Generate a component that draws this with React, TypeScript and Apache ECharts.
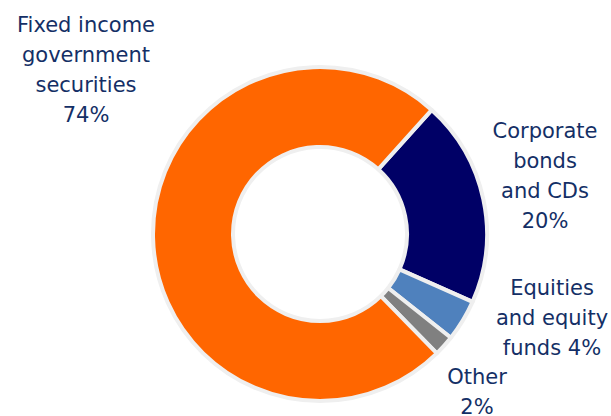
import React, { useEffect, useRef } from "react";
import * as echarts from "echarts";

const categories = [
  "Corporate\nbonds\nand CDs",
  "Equities\nand equity\nfunds",
  "Other",
  "Fixed income\ngovernment\nsecurities",
];
const values = [20, 4, 2, 74];
const labelSuffixSep = ["\n", " ", "\n", "\n"];
const colors = ["#000066", "#4F81BD", "#808080", "#FF6600"];
const labelPos = [
  [545, 176],
  [552, 318],
  [477, 392],
  [86, 70],
];

export default function App() {
  const ref = useRef<HTMLDivElement>(null);
  useEffect(() => {
    document.body.style.margin = "0";
    const chart = echarts.init(ref.current!, undefined, { renderer: "svg" });
    chart.setOption({
      animation: false,
      backgroundColor: "#ffffff",
      series: [
        {
          type: "pie",
          center: [320, 234],
          radius: [87, 167],
          startAngle: 48,
          clockwise: true,
          avoidLabelOverlap: false,
          data: categories.map((c, i) => ({
            name: c,
            value: values[i],
            itemStyle: { color: colors[i] },
          })),
          itemStyle: { borderColor: "#efefef", borderWidth: 4 },
          label: {
            show: true,
            position: "outside",
            color: "#142F66",
            fontFamily: "DejaVu Sans, Verdana, sans-serif",
            fontSize: 21,
            lineHeight: 30,
            align: "center",
            formatter: (p: any) =>
              p.name + labelSuffixSep[p.dataIndex] + p.value + "%",
          },
          labelLine: { show: false },
          labelLayout: (p: any) => ({
            x: labelPos[p.dataIndex][0],
            y: labelPos[p.dataIndex][1],
            align: "center",
            verticalAlign: "middle",
          }),
          emphasis: { disabled: true },
        },
      ],
    });
    return () => chart.dispose();
  }, []);
  return (
    <div
      ref={ref}
      style={{ position: "fixed", left: 0, top: 0, width: 611, height: 416 }}
    />
  );
}
